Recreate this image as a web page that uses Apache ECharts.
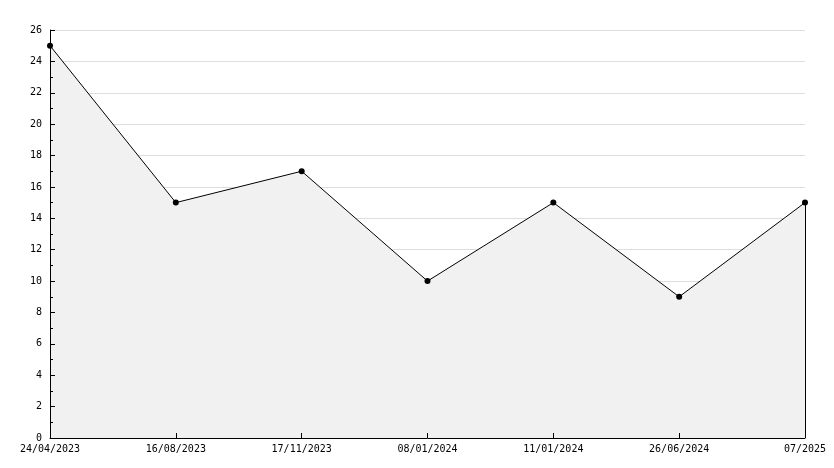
<!DOCTYPE html>
<html><head><meta charset="utf-8">
<script src="https://cdn.jsdelivr.net/npm/echarts@6/dist/echarts.min.js"></script>
<style>html,body{margin:0;padding:0;background:#fff}#c{width:834px;height:468px}</style>
</head><body><div id="c"></div>
<script>
const categories = ['24/04/2023','16/08/2023','17/11/2023','08/01/2024','11/01/2024','26/06/2024','07/2025'];
const values = [25, 15, 17, 10, 15, 9, 15];
const yMin = 0, yMax = 26, yStep = 2;

const font = 'DejaVu Sans Mono';
const chart = echarts.init(document.getElementById('c'));
const last = categories.length - 1;
const baseY = {type: 'value', min: yMin, max: yMax, interval: yStep, position: 'left'};
chart.setOption({
  animation: false,
  backgroundColor: '#fff',
  grid: {left: 50, right: 29, top: 30, bottom: 30},
  xAxis: [{
    type: 'category', data: categories, boundaryGap: false, z: 0,
    axisLine: {show: false},
    axisTick: {show: false},
    axisLabel: {color: '#000', fontFamily: font, fontSize: 10, margin: 6, interval: 0},
    splitLine: {show: false}
  }, {
    type: 'category', data: categories, boundaryGap: false, position: 'bottom', z: 10,
    axisLine: {show: true, lineStyle: {color: '#000', width: 1}},
    axisTick: {show: true, inside: true, length: 5, interval: 0, lineStyle: {color: '#000'}},
    axisLabel: {show: false},
    splitLine: {show: false}
  }],
  yAxis: [Object.assign({}, baseY, {
    z: 0,
    axisLine: {show: false},
    axisTick: {show: false},
    axisLabel: {color: '#000', fontFamily: font, fontSize: 10, margin: 8},
    splitLine: {show: true, lineStyle: {color: '#dddddd', width: 1}}
  }), Object.assign({}, baseY, {
    z: 10,
    axisLine: {show: true, lineStyle: {color: '#000', width: 1}},
    axisTick: {show: true, inside: true, length: 5, lineStyle: {color: '#000'}},
    minorTick: {show: true, splitNumber: 2, length: 3, lineStyle: {color: '#000'}},
    axisLabel: {show: false},
    splitLine: {show: false}
  })],
  series: [{
    type: 'line', data: values, xAxisIndex: 0, yAxisIndex: 0, z: 2,
    lineStyle: {color: '#000', width: 1},
    areaStyle: {color: '#f1f1f1', opacity: 1},
    symbol: 'circle', symbolSize: 6,
    itemStyle: {color: '#000'},
    markLine: {
      silent: true, symbol: 'none', label: {show: false},
      lineStyle: {color: '#000', width: 1, type: 'solid'},
      data: [[{coord: [last, 0]}, {coord: [last, values[last]]}]]
    }
  }]
});
</script></body></html>
